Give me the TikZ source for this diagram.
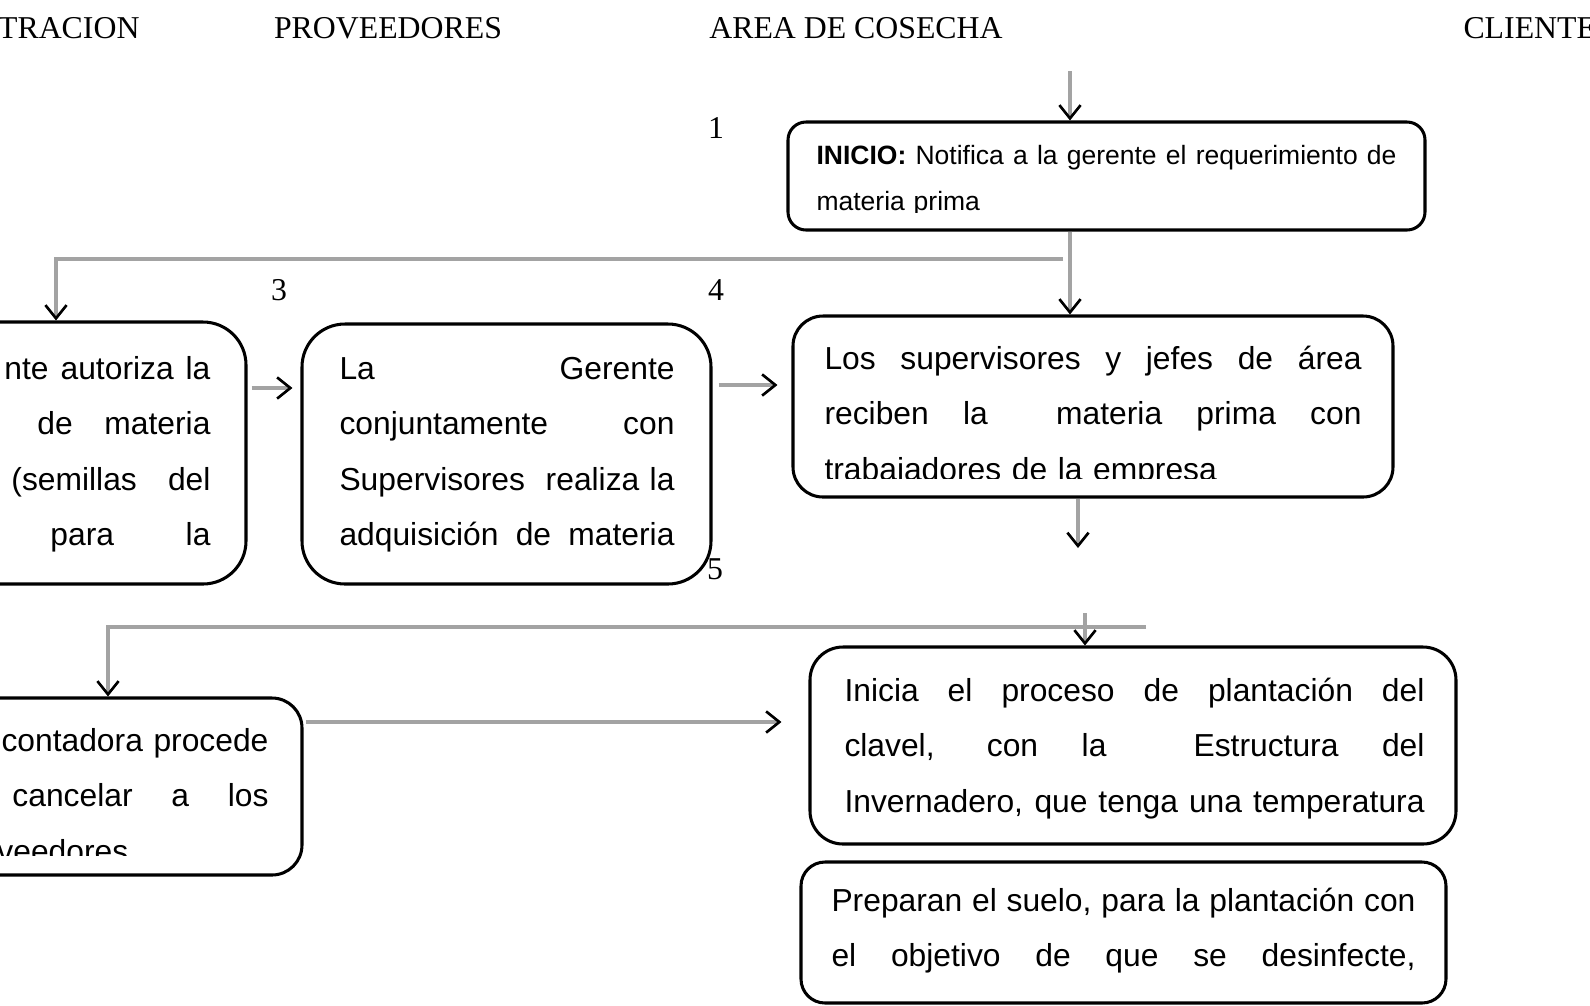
\documentclass[tikz,border=0pt]{standalone}
\usepackage{fontspec}
\setmainfont{Liberation Serif}
\newfontfamily\arial{Liberation Sans}
\usetikzlibrary{arrows.meta, calc, positioning}
\newdimen\upx \upx=0.3774pt
\newcommand{\jl}[2]{\leavevmode\hbox to #1\upx{\spaceskip=.278em plus 1fil\relax\xspaceskip=.278em plus 1fil\relax #2}}

\begin{document}
\begin{tikzpicture}[x=\upx, y=-\upx,
    >={Straight Barb[length=5pt, width=8pt, line width=1pt, color=black]},
    caja/.style={draw, line width=1.15pt, inner sep=0pt},
    texto/.style={inner sep=0pt, align=left, font=\arial\fontsize{12}{21}\selectfont},
    flecha/.style={->, draw=gray!72, line width=1.3pt},
    titulo/.style={inner sep=0pt, font=\fontsize{12}{14}\selectfont}]
	\path[use as bounding box, fill=white] (0,0) rectangle (1590,1005);

	\node[titulo, anchor=base east] (administracion) at (140,38) {TRACION};
	\node[titulo, anchor=base] (proveedores) at (388,38) {PROVEEDORES};
	\node[titulo, anchor=base] (cosecha) at (856,38) {AREA DE COSECHA};
	\node[titulo, anchor=base west] (clientes) at (1463,38) {CLIENTE};

	\node[titulo, anchor=base] (num1) at (716,138) {1};
	\node[titulo, anchor=base] (num3) at (279,300) {3};
	\node[titulo, anchor=base] (num4) at (716,300) {4};
	\node[titulo, anchor=base] (num5) at (715,579) {5};

	\node[caja, minimum width={637*\upx}, minimum height={108*\upx}, rounded corners={18*\upx}] (inicio) at (1106.5,176) {};
	\node[caja, minimum width={600*\upx}, minimum height={181*\upx}, rounded corners={30*\upx}] (recibe) at (1093,406.5) {};
	\node[caja, minimum width={409*\upx}, minimum height={260*\upx}, rounded corners={43*\upx}] (gerente) at (506.5,454) {};
	\node[caja, minimum width={380*\upx}, minimum height={262*\upx}, rounded corners={43*\upx}] (autoriza) at (56,453) {};
	\node[caja, minimum width={388*\upx}, minimum height={177*\upx}, rounded corners={30*\upx}] (contadora) at (108,786.5) {};
	\node[caja, minimum width={646*\upx}, minimum height={197*\upx}, rounded corners={33*\upx}] (plantacion) at (1133,745.5) {};
	\node[caja, minimum width={645*\upx}, minimum height={141*\upx}, rounded corners={24*\upx}] (suelo) at (1123.5,932.5) {};

	\begin{scope}
		\clip (inicio.north west) rectangle ($(inicio.south east)+(0,-19)$);
		\node[texto, text width={580*\upx}, anchor=base west, font=\arial\fontsize{10}{17.7}\selectfont] (iniciotxt) at (816,164)
			{\jl{580}{\textbf{INICIO:} Notifica a la gerente el requerimiento de}\\ materia prima};
	\end{scope}
	\begin{scope}
		\clip (recibe.north west) rectangle ($(recibe.south east)+(0,-20)$);
		\node[texto, text width={537*\upx}, anchor=base west] (recibetxt) at (824,369)
			{\jl{537}{Los supervisores y jefes de área}\\ \jl{537}{reciben la\ \ materia prima con}\\ trabajadores de la empresa};
	\end{scope}
	\node[texto, text width={335*\upx}, anchor=base west] (gerentetxt) at (339,379)
		{\jl{335}{La Gerente}\\ \jl{335}{conjuntamente con}\\ \jl{335}{Supervisores\ \ realiza la}\\ \jl{335}{adquisición de materia}};
	\node[texto, align=right, text width={230*\upx}, anchor=base east] (autorizatxt) at (211,379)
		{\jl{206}{nte autoriza la}\\ \jl{173}{de materia}\\ \jl{199}{(semillas del}\\ \jl{160}{para la}};
	\begin{scope}
		\clip (contadora.north west) rectangle ($(contadora.south east)+(0,-21)$);
		\node[texto, align=right, text width={290*\upx}, anchor=base east] (contadoratxt) at (269,751)
			{contadora procede\\ \jl{256}{cancelar a los}\\ \makebox[271\upx][l]{veedores}};
	\end{scope}
	\node[texto, text width={580*\upx}, anchor=base west] (plantaciontxt) at (844,701)
		{\jl{580}{Inicia el proceso de plantación del}\\ \jl{580}{clavel, con la\ \ Estructura del}\\ \jl{580}{Invernadero, que tenga una temperatura}};
	\node[texto, text width={584*\upx}, anchor=base west] (suelotxt) at (831,911)
		{\jl{584}{Preparan el suelo, para la plantación con}\\ \jl{584}{el objetivo de que se desinfecte,}};

	\coordinate (inicioarr) at (1070,71);
	\coordinate (rama1) at (1063,259);
	\coordinate (bajada) at (1078,548);
	\coordinate (rama2) at (1146,627);
	\coordinate (entrada) at (1085,613);

	\draw[flecha] (inicioarr) -- (inicioarr |- inicio.north);
	\draw[flecha] (inicioarr |- inicio.south) -- (inicioarr |- recibe.north);
	\draw[flecha] (rama1) -| (autoriza.north);
	\draw[flecha] ($(autoriza.east)+(4,-65)$) -- ($(gerente.west)+(-8,-66)$);
	\draw[flecha] ($(gerente.east)+(6,-69)$) -- ($(recibe.west)+(-14,-21.5)$);
	\draw[flecha] (bajada |- recibe.south) -- (bajada);
	\draw[flecha] (rama2) -| (contadora.north);
	\draw[flecha] (entrada) -- (entrada |- plantacion.north);
	\draw[flecha] ($(contadora.east)+(2,-64.5)$) -- ($(plantacion.west)+(-27,-23.5)$);
\end{tikzpicture}
\end{document}
